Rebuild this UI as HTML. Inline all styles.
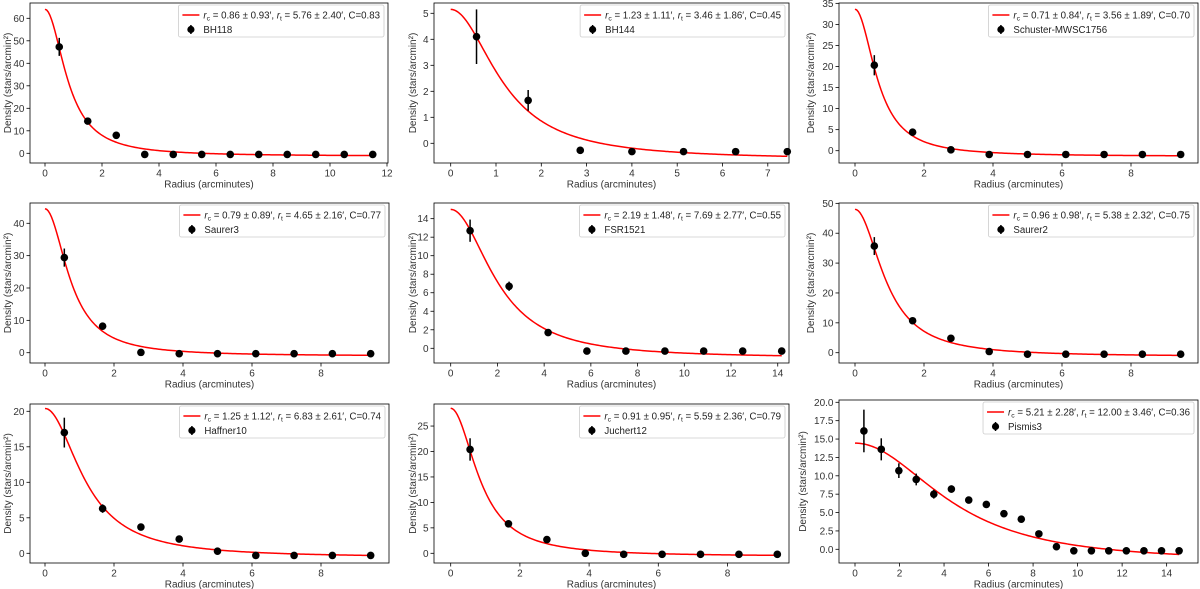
<!DOCTYPE html>
<html><head><meta charset="utf-8"><title>King profile fits</title>
<style>
html,body{margin:0;padding:0;background:#fff;}
svg{display:block;font-family:"Liberation Sans","DejaVu Sans",sans-serif;}
</style></head>
<body>
<svg id="fig" width="1200" height="589" viewBox="0 0 1200 589" xmlns="http://www.w3.org/2000/svg"></svg>
<script>
// ---- data ----
const bh118_r = [0.5,1.5,2.5,3.5,4.5,5.5,6.5,7.5,8.5,9.5,10.5,11.5];
const bh118_density = [47.3,14.3,8.0,-0.5,-0.5,-0.5,-0.5,-0.5,-0.5,-0.5,-0.5,-0.5];
const bh118_err = [4.0,1.0,0.8,0.3,0.3,0.3,0.3,0.3,0.3,0.3,0.3,0.3];
const bh118_fit = [0.86,5.76,64.0,-1.0,1.05]; // rc, rt, peak, end, shape

const bh144_r = [0.57,1.71,2.86,4.0,5.14,6.29,7.43];
const bh144_density = [4.1,1.65,-0.27,-0.32,-0.32,-0.32,-0.32];
const bh144_err = [1.05,0.4,0.05,0.05,0.05,0.05,0.05];
const bh144_fit = [1.23,3.46,5.15,-0.5,1.05];

const schuster_r = [0.56,1.67,2.78,3.89,5.0,6.11,7.22,8.33,9.44];
const schuster_density = [20.3,4.4,0.2,-0.9,-0.9,-0.9,-0.9,-0.9,-0.9];
const schuster_err = [2.4,0.5,0.3,0.2,0.2,0.2,0.2,0.2,0.2];
const schuster_fit = [0.71,3.56,33.6,-1.2,1.05];

const saurer3_r = [0.56,1.67,2.78,3.89,5.0,6.11,7.22,8.33,9.44];
const saurer3_density = [29.4,8.2,0.1,-0.3,-0.3,-0.3,-0.3,-0.3,-0.3];
const saurer3_err = [2.8,0.8,0.3,0.2,0.2,0.2,0.2,0.2,0.2];
const saurer3_fit = [0.79,4.65,44.5,-0.8,1.05];

const fsr1521_r = [0.83,2.5,4.17,5.83,7.5,9.17,10.83,12.5,14.17];
const fsr1521_density = [12.7,6.7,1.7,-0.3,-0.3,-0.3,-0.3,-0.3,-0.3];
const fsr1521_err = [1.2,0.5,0.2,0.1,0.1,0.1,0.1,0.1,0.1];
const fsr1521_fit = [2.19,7.69,15.0,-0.8,1.1];

const saurer2_r = [0.56,1.67,2.78,3.89,5.0,6.11,7.22,8.33,9.44];
const saurer2_density = [35.7,10.7,4.8,0.4,-0.5,-0.5,-0.5,-0.5,-0.5];
const saurer2_err = [3.0,0.8,0.6,0.3,0.2,0.2,0.2,0.2,0.2];
const saurer2_fit = [0.96,5.38,48.0,-0.9,1.05];

const haffner10_r = [0.56,1.67,2.78,3.89,5.0,6.11,7.22,8.33,9.44];
const haffner10_density = [17.0,6.3,3.7,2.0,0.3,-0.3,-0.3,-0.3,-0.3];
const haffner10_err = [2.1,0.6,0.4,0.2,0.2,0.1,0.1,0.1,0.1];
const haffner10_fit = [1.25,6.83,20.4,-0.3,1.05];

const juchert12_r = [0.56,1.67,2.78,3.89,5.0,6.11,7.22,8.33,9.44];
const juchert12_density = [20.4,5.8,2.7,0.0,-0.2,-0.2,-0.2,-0.2,-0.2];
const juchert12_err = [2.2,0.5,0.3,0.2,0.1,0.1,0.1,0.1,0.1];
const juchert12_fit = [0.91,5.59,28.5,-0.4,1.05];

const pismis3_r = [0.4,1.18,1.97,2.75,3.54,4.33,5.11,5.9,6.69,7.47,8.26,9.05,9.83,10.62,11.4,12.19,12.98,13.77,14.56];
const pismis3_density = [16.1,13.6,10.7,9.5,7.5,8.2,6.7,6.1,4.85,4.1,2.1,0.35,-0.2,-0.2,-0.2,-0.2,-0.2,-0.2,-0.2];
const pismis3_err = [2.9,1.5,1.0,0.8,0.6,0.5,0.4,0.3,0.2,0.2,0.2,0.1,0.1,0.1,0.1,0.1,0.1,0.1,0.1];
const pismis3_fit = [5.21,12.0,14.45,-0.7,1.3];

const legend_texts = [
 ["0.86 ± 0.93","5.76 ± 2.40","0.83","BH118"],
 ["1.23 ± 1.11","3.46 ± 1.86","0.45","BH144"],
 ["0.71 ± 0.84","3.56 ± 1.89","0.70","Schuster-MWSC1756"],
 ["0.79 ± 0.89","4.65 ± 2.16","0.77","Saurer3"],
 ["2.19 ± 1.48","7.69 ± 2.77","0.55","FSR1521"],
 ["0.96 ± 0.98","5.38 ± 2.32","0.75","Saurer2"],
 ["1.25 ± 1.12","6.83 ± 2.61","0.74","Haffner10"],
 ["0.91 ± 0.95","5.59 ± 2.36","0.79","Juchert12"],
 ["5.21 ± 2.28","12.00 ± 3.46","0.36","Pismis3"]
];
const xticks_a = [0,2,4,6,8,10,12];
const xticks_b = [0,1,2,3,4,5,6,7];
const xticks_c = [0,2,4,6,8];
const xticks_d = [0,2,4,6,8,10,12,14];
const yticks_bh118 = [0,10,20,30,40,50,60];
const yticks_bh144 = [0,1,2,3,4,5];
const yticks_schuster = [0,5,10,15,20,25,30,35];
const yticks_saurer3 = [0,10,20,30,40];
const yticks_fsr = [0,2,4,6,8,10,12,14];
const yticks_saurer2 = [0,10,20,30,40,50];
const yticks_haffner = [0,5,10,15,20];
const yticks_juchert = [0,5,10,15,20,25];
const yticks_pismis = [0,2.5,5,7.5,10,12.5,15,17.5,20];

// ---- layout ----
const panels = [
 {r:bh118_r,d:bh118_density,e:bh118_err,f:bh118_fit,xt:xticks_a,yt:yticks_bh118,dec:0,box:[30,3,388,163],x0:45,xs:28.5,y0:153.3,ys:2.25,yl:8},
 {r:bh144_r,d:bh144_density,e:bh144_err,f:bh144_fit,xt:xticks_b,yt:yticks_bh144,dec:0,box:[434,3,789,163],x0:450.7,xs:45.3,y0:143.3,ys:26,yl:413},
 {r:schuster_r,d:schuster_density,e:schuster_err,f:schuster_fit,xt:xticks_c,yt:yticks_schuster,dec:0,box:[839,3,1198,163],x0:855,xs:34.5,y0:150.7,ys:4.21,yl:811},
 {r:saurer3_r,d:saurer3_density,e:saurer3_err,f:saurer3_fit,xt:xticks_c,yt:yticks_saurer3,dec:0,box:[30,203,389,363],x0:45,xs:34.5,y0:352.7,ys:3.235,yl:8},
 {r:fsr1521_r,d:fsr1521_density,e:fsr1521_err,f:fsr1521_fit,xt:xticks_d,yt:yticks_fsr,dec:0,box:[434,203,789,363],x0:450.7,xs:23.36,y0:348.3,ys:9.26,yl:413},
 {r:saurer2_r,d:saurer2_density,e:saurer2_err,f:saurer2_fit,xt:xticks_c,yt:yticks_saurer2,dec:0,box:[839,203,1198,363],x0:855,xs:34.5,y0:352.7,ys:2.987,yl:811},
 {r:haffner10_r,d:haffner10_density,e:haffner10_err,f:haffner10_fit,xt:xticks_c,yt:yticks_haffner,dec:0,box:[30,404,389,563],x0:45,xs:34.5,y0:553.3,ys:7.1,yl:8},
 {r:juchert12_r,d:juchert12_density,e:juchert12_err,f:juchert12_fit,xt:xticks_c,yt:yticks_juchert,dec:0,box:[434,404,789,563],x0:450.7,xs:34.6,y0:553.3,ys:5.09,yl:413},
 {r:pismis3_r,d:pismis3_density,e:pismis3_err,f:pismis3_fit,xt:xticks_d,yt:yticks_pismis,dec:1,box:[839,400,1198,563],x0:855,xs:22.26,y0:549.3,ys:7.35,yl:803}
];

const NS = "http://www.w3.org/2000/svg";
const svg = document.getElementById('fig');
function mk(tag, attrs, parent){
  const el = document.createElementNS(NS, tag);
  for (const k in attrs) el.setAttribute(k, attrs[k]);
  parent.appendChild(el);
  return el;
}
function profile(r, rc, p){
  return Math.pow(1 + (r/rc)*(r/rc), -p);
}

panels.forEach((p, i) => {
  const g = mk('g', {}, svg);
  
  
  const [L,T,R,B] = p.box;
  const X = v => p.x0 + v*p.xs;
  const Y = v => p.y0 - v*p.ys;

  const rc = p.f[0], peak = p.f[2], endv = p.f[3], sh = p.f[4];
  const rmax = p.r[p.r.length-1];
  const k0 = profile(0, rc, sh), k1 = profile(rmax, rc, sh);
  const A = (peak - endv) / (k0 - k1);
  const bg = peak - A*k0;
  let dstr = '';
  for (let j=0;j<=200;j++){
    const r = rmax*j/200;
    const y = A*profile(r, rc, sh) + bg;
    dstr += (j?'L':'M') + X(r).toFixed(2) + ',' + Y(y).toFixed(2);
  }
  const curve = mk('path', {d:dstr, fill:'none', stroke:'#ff0000', 'stroke-width':1.5}, g);
  
  

  p.r.forEach((r, j) => {
    const eb = mk('line', {x1:X(r), x2:X(r), y1:Y(p.d[j]-p.e[j]), y2:Y(p.d[j]+p.e[j]), stroke:'#000', 'stroke-width':1.5}, g);
    
    
    const pt = mk('circle', {cx:X(r), cy:Y(p.d[j]), r:3.8, fill:'#000'}, g);
    
    
  });

  const fr = mk('rect', {x:L, y:T, width:R-L, height:B-T, fill:'none', stroke:'#000', 'stroke-width':0.8}, g);
  
  

  p.xt.forEach(v => {
    const x = X(v);
    mk('line', {x1:x, x2:x, y1:B, y2:B+3.5, stroke:'#000', 'stroke-width':0.8}, g);
    const t = mk('text', {x:x, y:B+13.5, 'font-size':10, fill:'#333', 'text-anchor':'middle'}, g);
    t.textContent = v;
    
    
  });
  p.yt.forEach(v => {
    const y = Y(v);
    mk('line', {x1:L-3.5, x2:L, y1:y, y2:y, stroke:'#000', 'stroke-width':0.8}, g);
    const t = mk('text', {x:L-5.5, y:y+3.5, 'font-size':10, fill:'#333', 'text-anchor':'end'}, g);
    t.textContent = p.dec ? v.toFixed(1) : v;
    
    
  });
  const xl = mk('text', {x:(L+R)/2, y:B+24.5, 'font-size':10, fill:'#333', 'text-anchor':'middle'}, g);
  xl.textContent = 'Radius (arcminutes)';
  
  
  const yc = (T+B)/2;
  const yl = mk('text', {x:p.yl+3, y:yc, 'font-size':10, fill:'#333', 'text-anchor':'middle', transform:'rotate(-90 '+(p.yl+3)+' '+yc+')'}, g);
  yl.textContent = 'Density (stars/arcmin²)';
  
  

  const lg = mk('g', {}, g);
  
  
  const lt = legend_texts[i];
  const box = mk('rect', {x:0, y:T+2, width:10, height:32, rx:2, fill:'#fff', 'fill-opacity':0.8, stroke:'#ccc', 'stroke-width':0.8}, lg);
  const txt = mk('text', {x:0, y:T+15.5, 'font-size':9.7, fill:'#222'}, lg);
  
  
  const parts = [['r','i'],['c','sub'],[' = '+lt[0]+'′, ',''],['r','i'],['t','sub'],[' = '+lt[1]+'′, C='+lt[2],'']];
  parts.forEach(([s, st]) => {
    const ts = mk('tspan', {}, txt);
    if (st==='i') ts.setAttribute('font-style','italic');
    if (st==='sub'){ ts.setAttribute('font-size','6.8'); ts.setAttribute('dy','2'); }
    ts.textContent = s;
  });
  const tsp = txt.querySelectorAll('tspan');
  tsp[2].setAttribute('dy','-2');
  tsp[5].setAttribute('dy','-2');
  const w = txt.getComputedTextLength();
  const right = R - 4;
  const textX = right - 4 - w;
  txt.setAttribute('x', textX);
  const left = textX - 25;
  box.setAttribute('x', left);
  box.setAttribute('width', right - left);
  const ls = mk('line', {x1:left+4, x2:left+21, y1:T+12, y2:T+12, stroke:'#ff0000', 'stroke-width':1.5}, lg);
  
  
  mk('line', {x1:left+12.5, x2:left+12.5, y1:T+22, y2:T+31, stroke:'#000', 'stroke-width':1.5}, lg);
  const mc = mk('circle', {cx:left+12.5, cy:T+26.5, r:3.6, fill:'#000'}, lg);
  
  
  const nt = mk('text', {x:textX, y:T+30, 'font-size':9.7, fill:'#222'}, lg);
  nt.textContent = lt[3];
  
  
});
</script>
</body></html>
